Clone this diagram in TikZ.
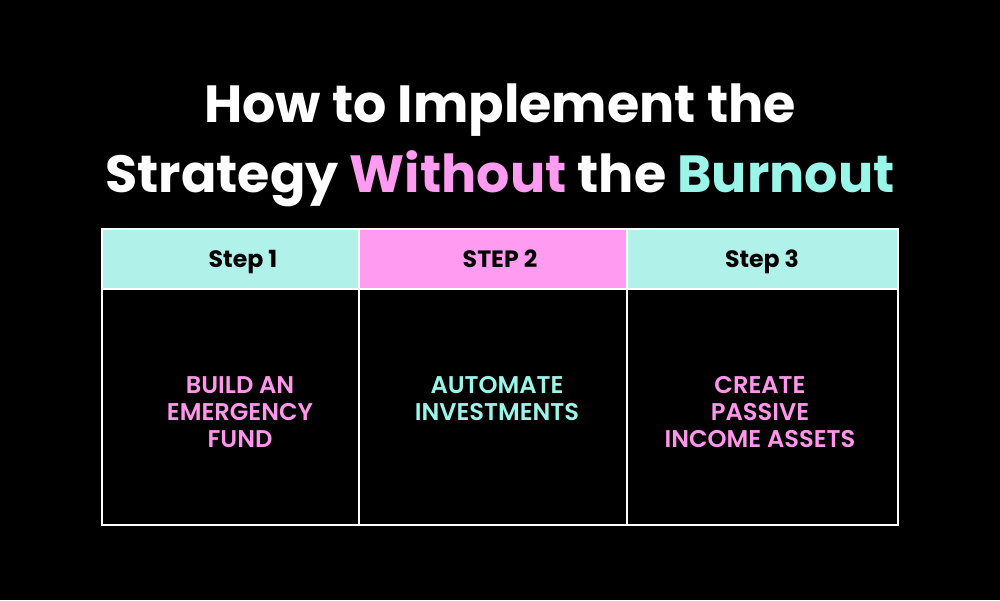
\documentclass[tikz,border=0pt]{standalone}
\usepackage{fontspec}
\setmainfont{Poppins}
\newfontfamily\popsemi{Poppins}[UprightFont=* SemiBold]
\usetikzlibrary{positioning}
\definecolor{hdcyan}{RGB}{176,242,234}
\definecolor{hdpink}{RGB}{255,155,240}
\definecolor{txpink}{RGB}{255,150,236}
\definecolor{txcyan}{RGB}{155,246,234}

\begin{document}
\begin{tikzpicture}[x=0.025cm, y=-0.025cm,
    title/.style={font=\fontsize{37.2}{46}\selectfont\bfseries, text=white, anchor=base, inner sep=0pt},
    hdr/.style={font=\fontsize{16.8}{19}\selectfont\bfseries, text=black, anchor=base, inner sep=0pt},
    cell/.style={font=\fontsize{17.2}{19.2}\selectfont\popsemi, align=center, anchor=north, inner sep=0pt},
    grid/.style={draw=white, line width=1.1pt}]

%% Background
\fill[black] (0,0) rectangle (1000,600);
\useasboundingbox (0,0) rectangle (1000,600);

%% Title
\node[title] (line1) at (500,122) {How to Implement the};
\node[title] (line2) at (500,192) {Strategy \textcolor{hdpink}{Without} the \textcolor{txcyan}{Burnout}};

%% Header row
\fill[hdcyan] (102,229) rectangle (359,289);
\fill[hdpink] (359,229) rectangle (627,289);
\fill[hdcyan] (627,229) rectangle (898,289);
\node[hdr] (step1) at (243,267) {Step 1};
\node[hdr] (step2) at (500,267) {STEP 2};
\node[hdr] (step3) at (762,267) {Step 3};

%% Grid lines
\draw[grid] (102,229) rectangle (898,525);
\draw[grid] (102,289) -- (898,289);
\draw[grid] (359,229) -- (359,525);
\draw[grid] (627,229) -- (627,525);

%% Cell texts
\node[cell, text=txpink] (fund)   at (240,376) {BUILD AN\\EMERGENCY\\FUND};
\node[cell, text=txcyan] (invest) at (497,376) {AUTOMATE\\INVESTMENTS};
\node[cell, text=txpink] (assets) at (760,376) {CREATE\\PASSIVE\\INCOME ASSETS};

\end{tikzpicture}
\end{document}
